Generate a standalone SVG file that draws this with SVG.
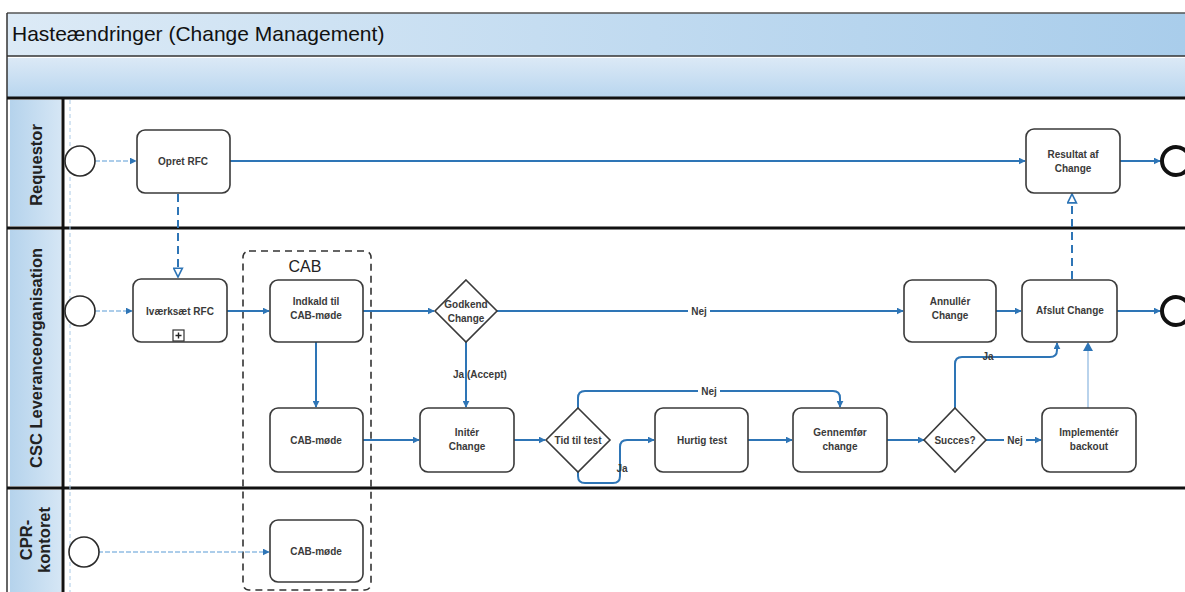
<svg xmlns="http://www.w3.org/2000/svg" width="1185" height="592" viewBox="0 0 1185 592">
  <style>
    .task { fill: #ffffff; stroke: #3a3a3a; stroke-width: 1.6; }
    .gw { fill: #ffffff; stroke: #3a3a3a; stroke-width: 1.6; }
    .start { fill: #ffffff; stroke: #2a2a2a; stroke-width: 1.6; }
    .end { fill: #ffffff; stroke: #111111; stroke-width: 4; }
    .lbl { font-family: "Liberation Sans", Arial, sans-serif; font-size: 10px; font-weight: bold; fill: #3a3a3a; text-anchor: middle; }
    .flow { fill: none; stroke: #2e75b6; stroke-width: 2; marker-end: url(#arrow); }
    .thin { fill: none; stroke: #5b9bd5; stroke-width: 1.2; stroke-dasharray: 5 2; marker-end: url(#arrow); }
    .msg { fill: none; stroke: #2e75b6; stroke-width: 2; stroke-dasharray: 8 5; marker-end: url(#open); }
    .lane { stroke: #111111; stroke-width: 3; }
    .hdr { font-family: "Liberation Sans", Arial, sans-serif; font-size: 16.5px; font-weight: bold; fill: #222222; text-anchor: middle; }
  </style>
  <defs>
    <marker id="arrow" viewBox="0 0 10 10" refX="9" refY="5" markerWidth="7" markerHeight="7" markerUnits="userSpaceOnUse" orient="auto">
      <path d="M0,0 L10,5 L0,10 z" fill="#2e75b6"/>
    </marker>
    <marker id="open" viewBox="0 0 10 10" refX="9" refY="5" markerWidth="11" markerHeight="11" markerUnits="userSpaceOnUse" orient="auto">
      <path d="M1,1 L9,5 L1,9 z" fill="#ffffff" stroke="#2e75b6" stroke-width="1.5"/>
    </marker>
    <linearGradient id="band" x1="0" y1="0" x2="0" y2="1">
      <stop offset="0" stop-color="#dbe9f6"/>
      <stop offset="1" stop-color="#b9d6ef"/>
    </linearGradient>
    <linearGradient id="band2" x1="0" y1="0" x2="1" y2="0">
      <stop offset="0" stop-color="#dceaf6"/>
      <stop offset="1" stop-color="#a9cdeb"/>
    </linearGradient>
    <linearGradient id="side" x1="0" y1="0" x2="1" y2="0">
      <stop offset="0" stop-color="#b5d3ec"/>
      <stop offset="1" stop-color="#d5e6f5"/>
    </linearGradient>
  </defs>

  <!-- pool header -->
  <g id="pool-title">
    <rect x="7" y="13" width="1178" height="43" fill="url(#band2)"/>
    <rect x="7" y="58" width="1178" height="39" fill="url(#band)"/>
    <line x1="7" y1="13" x2="1185" y2="13" stroke="#555" stroke-width="1.5"/>
    <line x1="7" y1="56" x2="1185" y2="56" stroke="#333" stroke-width="1.5"/>
    <line x1="7" y1="13" x2="7" y2="592" stroke="#333" stroke-width="1.5"/>
    <text x="12" y="41" font-family="Liberation Sans, Arial, sans-serif" font-size="21" fill="#111">Hasteændringer (Change Management)</text>
  </g>

  <!-- lanes -->
  <g id="lanes">
    <rect x="10" y="100" width="51" height="126" fill="url(#side)"/>
    <rect x="10" y="230" width="51" height="256" fill="url(#side)"/>
    <rect x="10" y="490" width="51" height="102" fill="url(#side)"/>
    <line class="lane" x1="7" y1="98" x2="1185" y2="98"/>
    <line class="lane" x1="7" y1="228" x2="1185" y2="228"/>
    <line class="lane" x1="7" y1="488" x2="1185" y2="488"/>
    <line class="lane" x1="63" y1="98" x2="63" y2="592"/>
    <line x1="70" y1="100" x2="70" y2="592" stroke="#a9c9e6" stroke-width="1" stroke-dasharray="4 3"/>
    <text class="hdr" transform="translate(42,165) rotate(-90)">Requestor</text>
    <text class="hdr" transform="translate(42,358) rotate(-90)">CSC Leveranceorganisation</text>
    <text class="hdr" transform="translate(32,540) rotate(-90)">CPR-</text>
    <text class="hdr" transform="translate(50,540) rotate(-90)">kontoret</text>
  </g>

  <!-- CAB group -->
  <g id="cab-group">
    <rect x="243" y="251" width="128" height="339" rx="6" fill="none" stroke="#333" stroke-width="1.6" stroke-dasharray="7 5"/>
    <text x="305" y="272" font-family="Liberation Sans, Arial, sans-serif" font-size="16" fill="#222" text-anchor="middle">CAB</text>
  </g>

  <!-- connectors -->
  <g id="connectors">
    <line class="thin" x1="95" y1="161" x2="136" y2="161"/>
    <line class="flow" x1="230" y1="161" x2="1025" y2="161"/>
    <line class="flow" x1="1120" y1="161" x2="1160" y2="161"/>
    <line class="msg" x1="178" y1="194" x2="178" y2="277"/>
    <line class="msg" x1="1072" y1="279" x2="1072" y2="194"/>
    <line class="thin" x1="95" y1="311" x2="132" y2="311"/>
    <line class="flow" x1="227" y1="311" x2="269" y2="311"/>
    <line class="flow" x1="363" y1="311" x2="434" y2="311"/>
    <line class="flow" x1="316" y1="342" x2="316" y2="407"/>
    <line class="flow" x1="497" y1="311" x2="903" y2="311"/>
    <line class="flow" x1="996" y1="311" x2="1021" y2="311"/>
    <line class="flow" x1="1117" y1="311" x2="1160" y2="311"/>
    <line class="flow" x1="466" y1="342" x2="466" y2="407"/>
    <line class="flow" x1="363" y1="440" x2="419" y2="440"/>
    <line class="flow" x1="514" y1="440" x2="545" y2="440"/>
    <path class="flow" d="M578,408 L578,398 Q578,391 585,391 L833,391 Q840,391 840,398 L840,407"/>
    <path class="flow" d="M578,472 L578,476 Q578,483 585,483 L613,483 Q620,483 620,476 L620,447 Q620,440 627,440 L654,440"/>
    <line class="flow" x1="748" y1="440" x2="792" y2="440"/>
    <line class="flow" x1="887" y1="440" x2="924" y2="440"/>
    <line class="flow" x1="986" y1="440" x2="1041" y2="440"/>
    <path class="flow" d="M955,408 L955,364 Q955,357 962,357 L1050,357 Q1057,357 1057,350 L1057,343"/>
    <line x1="1088" y1="408" x2="1088" y2="350" stroke="#b9d3ec" stroke-width="2"/>
    <path d="M1083,351 L1088,342 L1093,351 z" fill="#2e75b6"/>
    <line class="thin" x1="98" y1="552" x2="269" y2="552"/>
    <!-- labels -->
    <rect x="688" y="305" width="22" height="12" fill="#fff"/>
    <text class="lbl" x="699" y="315">Nej</text>
    <text class="lbl" x="480" y="378">Ja (Accept)</text>
    <rect x="698" y="385" width="22" height="12" fill="#fff"/>
    <text class="lbl" x="709" y="395">Nej</text>
    <text class="lbl" x="622" y="472">Ja</text>
    <rect x="1004" y="434" width="22" height="12" fill="#fff"/>
    <text class="lbl" x="1015" y="444">Nej</text>
    <text class="lbl" x="988" y="360">Ja</text>
  </g>

  <!-- Requestor lane nodes -->
  <g id="req-start"><circle class="start" cx="80" cy="161" r="15"/></g>
  <g id="opret-rfc">
    <rect class="task" x="137" y="130" width="93" height="63" rx="8"/>
    <text class="lbl" x="183" y="165">Opret RFC</text>
  </g>
  <g id="resultat">
    <rect class="task" x="1026" y="129" width="94" height="64" rx="8"/>
    <text class="lbl" x="1073" y="158">Resultat af</text>
    <text class="lbl" x="1073" y="172">Change</text>
  </g>
  <g id="req-end"><circle class="end" cx="1176" cy="161" r="14"/></g>

  <!-- CSC lane nodes -->
  <g id="csc-start"><circle class="start" cx="80" cy="311" r="15"/></g>
  <g id="ivaerksaet-rfc">
    <rect class="task" x="133" y="279" width="94" height="63" rx="8"/>
    <text class="lbl" x="180" y="315">Iværksæt RFC</text>
    <rect x="173" y="330" width="11" height="11" fill="#fff" stroke="#333" stroke-width="1.2"/>
    <path d="M178.5,332.5 V338.5 M175.5,335.5 H181.5" stroke="#222" stroke-width="1.4"/>
  </g>
  <g id="indkald">
    <rect class="task" x="270" y="280" width="93" height="62" rx="8"/>
    <text class="lbl" x="316" y="305">Indkald til</text>
    <text class="lbl" x="316" y="319">CAB-møde</text>
  </g>
  <g id="cab-moede">
    <rect class="task" x="270" y="408" width="93" height="64" rx="8"/>
    <text class="lbl" x="316" y="444">CAB-møde</text>
  </g>
  <g id="godkend">
    <path class="gw" d="M466,280 L497,311 L466,342 L435,311 z"/>
    <text class="lbl" x="466" y="308">Godkend</text>
    <text class="lbl" x="466" y="322">Change</text>
  </g>
  <g id="initer">
    <rect class="task" x="420" y="408" width="94" height="64" rx="8"/>
    <text class="lbl" x="467" y="436">Initér</text>
    <text class="lbl" x="467" y="450">Change</text>
  </g>
  <g id="tid-til-test">
    <path class="gw" d="M578,408 L610,440 L578,472 L546,440 z"/>
    <text class="lbl" x="578" y="444">Tid til test</text>
  </g>
  <g id="hurtig-test">
    <rect class="task" x="655" y="408" width="93" height="64" rx="8"/>
    <text class="lbl" x="702" y="444">Hurtig test</text>
  </g>
  <g id="gennemfoer">
    <rect class="task" x="793" y="408" width="94" height="64" rx="8"/>
    <text class="lbl" x="840" y="436">Gennemfør</text>
    <text class="lbl" x="840" y="450">change</text>
  </g>
  <g id="succes">
    <path class="gw" d="M955,408 L986,440 L955,472 L924,440 z"/>
    <text class="lbl" x="955" y="444">Succes?</text>
  </g>
  <g id="backout">
    <rect class="task" x="1042" y="408" width="94" height="64" rx="8"/>
    <text class="lbl" x="1089" y="436">Implementér</text>
    <text class="lbl" x="1089" y="450">backout</text>
  </g>
  <g id="annuller">
    <rect class="task" x="904" y="280" width="92" height="62" rx="8"/>
    <text class="lbl" x="950" y="305">Annullér</text>
    <text class="lbl" x="950" y="319">Change</text>
  </g>
  <g id="afslut">
    <rect class="task" x="1022" y="280" width="95" height="62" rx="8"/>
    <text class="lbl" x="1070" y="314">Afslut Change</text>
  </g>
  <g id="csc-end"><circle class="end" cx="1176" cy="311" r="14"/></g>

  <!-- CPR lane nodes -->
  <g id="cpr-start"><circle class="start" cx="84" cy="552" r="15"/></g>
  <g id="cpr-cab-moede">
    <rect class="task" x="270" y="520" width="93" height="62" rx="8"/>
    <text class="lbl" x="316" y="555">CAB-møde</text>
  </g>
</svg>
